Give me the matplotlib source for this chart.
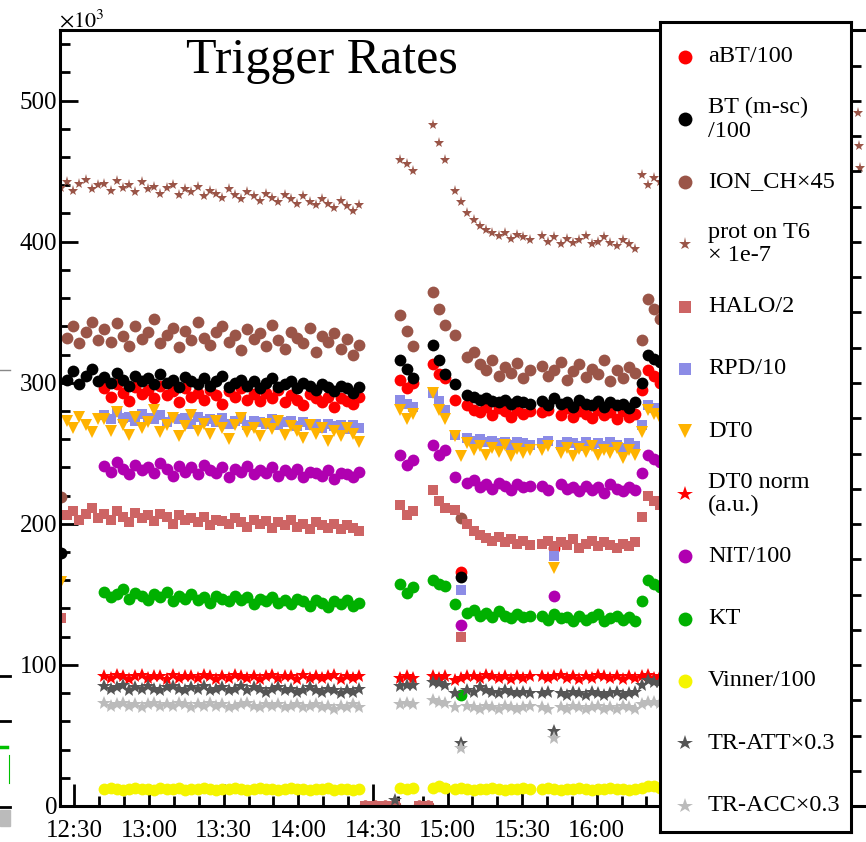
"""Trigger rates vs. time (ROOT-style scatter), redrawn with matplotlib."""
import numpy as np
import matplotlib

matplotlib.use("Agg")
import matplotlib.pyplot as plt
from matplotlib.lines import Line2D
from matplotlib.patches import Rectangle
from matplotlib.ticker import FixedLocator, FuncFormatter, MultipleLocator

plt.rcParams["font.family"] = ["Liberation Serif", "DejaVu Serif"]
plt.rcParams["mathtext.fontset"] = "stix"

na = None

# sample times, minutes after 12:00
TIME = [
    24.5, 27, 29.5, 32, 34.5, 37, 39.5,
    42, 44.5, 47, 49.5, 52, 54.5, 57, 59.5, 62, 64.5, 67, 69.5, 72, 74.5, 77, 79.5, 82, 84.5, 87, 89.5, 92,
    94.5, 97, 99.5, 102, 104.5, 107, 109.5, 112, 114.5, 117, 119.5, 122, 124.5, 127, 129.5, 132, 134.5, 137, 139.5, 142, 144.5,
    147, 151, 155, 159,
    161, 163.5, 166,
    168.5, 172,
    174, 176.5, 179,
    183, 185.5, 188, 190.5, 193, 195.5, 198, 200.5, 203, 205.5, 208, 210.5, 213,
    218, 220.5, 223, 225.5, 228, 230.5, 233, 235.5, 238, 240.5, 243, 245.5, 248, 250.5, 253, 255.5, 258, 260.5, 263, 265.5,
    345, 345.5, 346,
]

# rates in units of 10^3, one value per entry of TIME (None = no sample)
ABT = [
    na, na, na, na, na, na, na,
    296, 290, 299, 293, 287, 297, 292, 295, 289, 298, 291, 294, 286, 296, 290, 293, 288, 295, 291, 285, 294,
    290, 296, 288, 292, 287, 293, 289, 295, 286, 291, 288, 284, 292, 289, 286, 290, 283, 289, 287, 285, 290,
    0, 0, 0, 0,
    302, 296, 300,
    0, 0,
    313, 306, 303,
    288, 166, 284, 281, 279, 283, 277, 282, 280, 276, 281, 278, 280,
    279, 281, 183, 277, 282, 276, 280, 278, 275, 281, 277, 279, 274, 280, 276, 278, 295, 309, 305, 300,
    na, na, na,
]
BT = [
    179, 302, 308, 299, 305, 310, 301,
    304, 300, 307, 302, 298, 305, 301, 303, 299, 306, 300, 302, 297, 304, 301, 299, 303, 298, 301, 305, 297,
    300, 302, 298, 301, 296, 300, 303, 297, 299, 301, 296, 300, 298, 295, 299, 297, 294, 298, 296, 293, 297,
    na, na, na, na,
    316, 310, 303,
    na, na,
    327, 316, 306,
    299, 162, 291, 290, 288, 289, 287, 286, 288, 285, 287, 286, 285,
    287, 284, 289, 285, 286, 283, 288, 285, 284, 287, 283, 286, 284, 285, 282, 286, 300, 320, 317, 315,
    na, na, na,
]
ION = [
    219, 332, 340, 328, 336, 343, 330,
    338, 329, 342, 333, 326, 340, 331, 336, 345, 328, 334, 339, 325, 337, 330, 343, 332, 327, 336, 340, 329,
    334, 323, 338, 331, 335, 326, 341, 330, 324, 336, 332, 328, 339, 322, 333, 329, 335, 324, 331, 320, 327,
    0, 0, 0, 0,
    348, 337, 326,
    0, 0,
    364, 352, 341,
    334, 204, 318, 322, 313, 309, 316, 305, 311, 307, 314, 303, 309,
    312, 305, 309, 315, 302, 308, 313, 304, 310, 306, 316, 301, 309, 303, 311, 307, 330, 359, 352, 345,
    na, na, na,
]
PROT = [
    438, 442, 436, 441, 444, 437, 440,
    441, 436, 443, 438, 440, 435, 442, 437, 439, 434, 438, 440, 433, 437, 435, 439, 432, 436, 434, 431, 437,
    433, 430, 435, 432, 429, 434, 431, 428, 433, 430, 427, 432, 428, 426, 430, 427, 424, 429, 425, 422, 426,
    na, na, na, na,
    458, 455, 450,
    na, na,
    483, 470, 458,
    436, 428, 420, 415, 411, 408, 406, 404, 406, 402, 405, 403, 401,
    404, 400, 403, 398, 402, 399, 401, 404, 398, 400, 403, 399, 397, 401, 398, 395, 447, 440, 445, 442,
    491, 468, 452,
]
HALO = [
    133, 206, 209, 203, 207, 211, 204,
    207, 203, 209, 205, 201, 208, 204, 206, 202, 207, 205, 200, 206, 203, 204, 201, 205, 199, 203, 202, 200,
    204, 201, 198, 203, 200, 202, 197, 201, 199, 203, 198, 200, 196, 201, 199, 197, 200, 196, 199, 197, 195,
    0, 0, 0, 0,
    213, 206, 209,
    0, 0,
    224, 216, 211,
    210, 120, 200, 195, 192, 190, 188, 191, 187, 189, 186, 188, 185,
    186, 188, 184, 187, 185, 189, 183, 186, 188, 184, 187, 185, 183, 186, 184, 187, 205, 220, 216, 213,
    na, na, na,
]
RPD = [
    na, na, na, na, na, na, na,
    277, 274, 279, 275, 276, 273, 278, 275, 274, 277, 272, 276, 274, 275, 271, 276, 273, 274, 272, 275, 271,
    273, 274, 270, 273, 272, 271, 274, 270, 272, 273, 269, 272, 270, 271, 268, 271, 269, 270, 267, 270, 268,
    na, na, na, na,
    288, 285, 283,
    na, na,
    293, 287, 281,
    263, 153, 261, 259, 260, 258, 259, 257, 258, 256, 258, 257, 256,
    257, 259, 177, 256, 258, 257, 255, 258, 256, 257, 255, 258, 256, 254, 257, 255, 270, 284, 282, 280,
    na, na, na,
]
DT0 = [
    159, 273, 268, 276, 270, 265, 274,
    274, 266, 279, 270, 263, 276, 268, 272, 281, 265, 270, 275, 262, 269, 277, 266, 271, 264, 273, 268, 260,
    270, 275, 265, 268, 262, 271, 267, 273, 263, 269, 266, 261, 270, 264, 268, 259, 266, 262, 268, 264, 258,
    na, na, na, na,
    281, 274, 278,
    na, na,
    293, 281, 274,
    262, 248, 257, 252, 255, 249, 254, 251, 256, 248, 253, 250, 252,
    252, 255, 169, 250, 254, 248, 253, 251, 255, 249, 252, 250, 254, 247, 252, 249, 265, 281, 278, 275,
    na, na, na,
]
DT0_NORM = [
    na, na, na, na, na, na, na,
    92, 91, 93, 92, 90, 92, 93, 91, 92, 92, 90, 93, 91, 92, 92, 91, 93, 92, 90, 92, 91,
    93, 92, 91, 92, 90, 92, 93, 91, 92, 92, 90, 93, 91, 92, 91, 92, 93, 90, 92, 91, 92,
    na, na, na, na,
    91, 92, 91,
    na, na,
    92, 91, 92,
    89, 91, 92, 92, 91, 93, 92, 91, 92, 90, 92, 91, 92,
    92, 91, 92, 93, 91, 92, 90, 92, 91, 93, 92, 91, 92, 90, 92, 91, 92, 93, 91, 92,
    na, na, na,
]
NIT = [
    na, na, na, na, na, na, na,
    241, 237, 244, 239, 235, 242, 238, 240, 236, 243, 239, 234, 241, 237, 240, 235, 242, 238, 236, 240, 233,
    239, 237, 241, 235, 238, 236, 240, 234, 238, 235, 239, 233, 237, 236, 234, 238, 232, 236, 235, 233, 237,
    na, na, na, na,
    249, 242, 245,
    na, na,
    256, 249, 252,
    233, 128, 229, 231, 226, 228, 225, 229, 227, 224, 228, 226, 227,
    227, 224, 149, 228, 225, 226, 223, 227, 224, 226, 222, 228, 225, 223, 226, 224, 236, 249, 246, 244,
    na, na, na,
]
KT = [
    na, na, na, na, na, na, na,
    152, 148, 150, 154, 147, 151, 149, 146, 150, 148, 152, 145, 149, 147, 150, 146, 148, 144, 149, 147, 145,
    149, 146, 148, 143, 147, 145, 148, 144, 146, 143, 147, 145, 142, 146, 144, 141, 145, 143, 146, 142, 144,
    na, na, na, na,
    157, 151, 155,
    na, na,
    160, 157, 156,
    143, 79, 137, 139, 135, 137, 134, 138, 135, 133, 136, 134, 135,
    135, 132, 136, 133, 134, 131, 135, 132, 134, 136, 131, 133, 135, 132, 134, 131, 145, 160, 157, 155,
    na, na, na,
]
VINNER = [
    na, na, na, na, na, na, na,
    12, 13, 12, 11, 12, 13, 12, 12, 11, 13, 12, 12, 13, 11, 12, 12, 13, 12, 11, 12, 12,
    13, 12, 11, 12, 13, 12, 12, 11, 12, 13, 12, 12, 11, 12, 12, 13, 11, 12, 12, 11, 12,
    na, na, na, na,
    13, 12, 13,
    na, na,
    13, 14, 13,
    12, 13, 12, 11, 12, 12, 13, 12, 11, 12, 12, 13, 12,
    12, 13, 12, 11, 12, 12, 13, 12, 11, 12, 12, 13, 12, 12, 11, 12, 13, 14, 14, 13,
    na, na, na,
]
TR_ATT = [
    na, na, na, na, na, na, na,
    85, 83, 84, 86, 82, 84, 83, 85, 83, 82, 84, 85, 83, 82, 84, 83, 85, 82, 83, 84, 82,
    83, 85, 82, 84, 83, 81, 83, 84, 82, 83, 81, 82, 84, 82, 81, 83, 82, 80, 82, 81, 83,
    na, na, na, 4,
    85, 86, 86,
    na, na,
    88, 87, 86,
    80, 45, 82, 81, 84, 82, 81, 80, 82, 81, 80, 81, 80,
    80, 81, 53, 80, 79, 81, 80, 79, 81, 80, 79, 80, 81, 79, 80, 81, 86, 89, 88, 88,
    na, na, na,
]
TR_ACC = [
    na, na, na, na, na, na, na,
    73, 71, 72, 73, 71, 72, 70, 72, 73, 71, 72, 71, 73, 72, 70, 72, 71, 73, 71, 72, 70,
    71, 72, 73, 71, 70, 72, 71, 72, 70, 71, 72, 70, 71, 72, 70, 71, 69, 71, 70, 72, 70,
    na, na, na, na,
    72, 73, 72,
    na, na,
    75, 74, 73,
    70, 41, 71, 70, 69, 71, 70, 69, 71, 70, 69, 70, 71,
    70, 69, 48, 70, 69, 71, 70, 69, 70, 71, 69, 70, 69, 71, 70, 69, 72, 74, 74, 73,
    na, na, na,
]

LABELS = ["aBT/100", "BT (m-sc)\n/100", "ION_CH×45", "prot on T6\n× 1e-7", "HALO/2",
          "RPD/10", "DT0", "DT0 norm\n(a.u.)", "NIT/100", "KT", "Vinner/100",
          "TR-ATT×0.3", "TR-ACC×0.3"]
VALUES = [ABT, BT, ION, PROT, HALO, RPD, DT0, DT0_NORM, NIT, KT, VINNER, TR_ATT, TR_ACC]
COLORS = ["#ff0000", "#000000", "#9a5548", "#9a5548", "#cd6464", "#8c8ce6", "#ffb300",
          "#ff0000", "#b000b0", "#00b000", "#f5f500", "#555555", "#bbbbbb"]
MARKERS = ["o", "o", "o", "*", "s", "s", "v", "*", "o", "o", "o", "*", "*"]
SIZES = [8.5, 8.5, 8.5, 8, 7, 7, 8.5, 10, 8.5, 8.5, 8.5, 10, 10]

W, H = 866, 842


def box(x0, y0, x1, y1):
    """pixel box (top-left origin) -> figure fraction rect"""
    return [x0 / W, 1 - y1 / H, (x1 - x0) / W, (y1 - y0) / H]


def hhmm(m, _):
    return f"{12 + int(m // 60)}:{int(round(m % 60)):02d}"


fig = plt.figure(figsize=(W / 100, H / 100), dpi=100)

ax = fig.add_axes(box(60, 30, 883, 806))
for vals, marker, color, size in zip(VALUES, MARKERS, COLORS, SIZES):
    ax.plot(TIME, np.array(vals, dtype=float), ls="none", marker=marker, ms=size,
            color=color, mew=0)
ax.set_xlim(24.17, 355.1)
ax.set_ylim(0, 550)
ax.xaxis.set_major_locator(FixedLocator([30, 60, 90, 120, 150, 180, 210, 240]))
ax.xaxis.set_minor_locator(MultipleLocator(10))
ax.xaxis.set_major_formatter(FuncFormatter(hhmm))
ax.yaxis.set_major_locator(MultipleLocator(100))
ax.yaxis.set_minor_locator(MultipleLocator(20))
ax.tick_params(which="both", direction="in", width=2, labelsize=18, top=False, right=False)
ax.tick_params(axis="x", which="major", length=16, pad=10)
ax.tick_params(axis="y", which="major", length=13, pad=2)
ax.tick_params(which="minor", length=7)
ax.spines["right"].set_visible(False)
for s in ("left", "top", "bottom"):
    ax.spines[s].set_linewidth(2.2)

fig.text(322 / W, 1 - 73 / H, "Trigger Rates", fontsize=36, ha="center", va="baseline")
fig.text(59 / W, 1 - 27 / H, r"$\times10^{3}$", fontsize=16, va="baseline")

# legend box (ROOT TLegend look), with the neighbouring axis ticks on its right edge
lax = fig.add_axes(box(660, 22, 851, 832))
lax.set_facecolor("white")
lax.set_xlim(0, 1)
lax.set_ylim(-18.4, 556)
lax.set_xticks([])
lax.yaxis.tick_right()
lax.set_yticks(np.arange(0, 551, 25))
lax.set_yticklabels([])
lax.tick_params(axis="y", direction="out", length=7, width=2)
for s in lax.spines.values():
    s.set_linewidth(2.2)
for i, (label, marker, color, size) in enumerate(zip(LABELS, MARKERS, COLORS, SIZES)):
    yf = 1 - (35 + 62.4 * i) / 810
    lax.plot([0.131], [yf], transform=lax.transAxes, ls="none", marker=marker,
             ms=size + 1.5, color=color, mew=0)
    lax.text(0.251, yf, label, transform=lax.transAxes, va="center", ha="left",
             fontsize=17.5, linespacing=1.15)

# bits of the neighbouring pad that show on the left edge
for y, c, lw in [(370, "#888888", 1), (676, "black", 2), (721, "black", 2), (807, "black", 2)]:
    fig.add_artist(Line2D([0, 10 / W], [1 - y / H] * 2, color=c, lw=lw))
fig.add_artist(Line2D([0, 7 / W], [1 - 747 / H] * 2, color="#00c000", lw=2.5))
fig.add_artist(Line2D([9 / W] * 2, [1 - 755 / H, 1 - 783 / H], color="#00c000", lw=0.8))
fig.add_artist(Rectangle((0, 1 - 826 / H), 10 / W, 16 / H, color="#bbbbbb",
                         transform=fig.transFigure))

fig.savefig("out.png", dpi=100)
